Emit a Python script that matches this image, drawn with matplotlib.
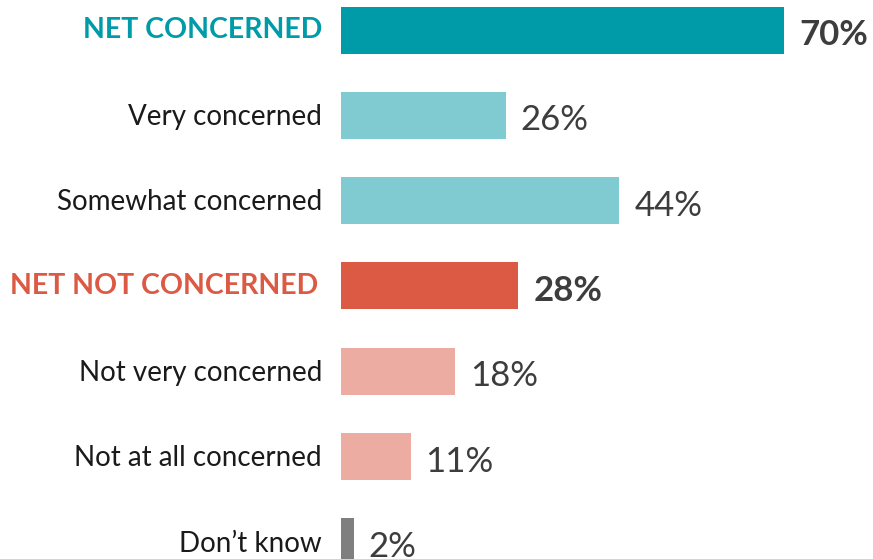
import matplotlib
matplotlib.use("Agg")
import matplotlib.pyplot as plt

categories = ["NET CONCERNED", "Very concerned", "Somewhat concerned",
              "NET NOT CONCERNED", "Not very concerned", "Not at all concerned",
              "Don\u2019t know"]
values = [70, 26, 44, 28, 18, 11, 2]
is_net = [True, False, False, True, False, False, False]
bar_colors = ["#009ba8", "#80cbd2", "#80cbd2", "#dc5944", "#ecaca2", "#ecaca2", "#7f7f7f"]
label_colors = ["#009ba8", "#1a1a1a", "#1a1a1a", "#dc5944", "#1a1a1a", "#1a1a1a", "#1a1a1a"]
label_gaps = [19, 19, 19, 23, 19, 19, 19]

W, H, DPI = 873, 559, 100
fig = plt.figure(figsize=(W / DPI, H / DPI), dpi=DPI)
x0 = 341
px_per_unit = (784 - x0) / 70.0
ax = fig.add_axes([x0 / W, 0, 1 - x0 / W, 1])
row_step = 85.33
first_center = 30
ax.set_xlim(0, (W - x0) / px_per_unit)
ax.set_ylim((H - first_center) / row_step, -first_center / row_step)
ax.axis("off")

ypos = list(range(len(categories)))
ax.barh(ypos, values, height=47 / row_step, color=bar_colors, linewidth=0)

font = "Lato"
for y, cat, v, net, lc, gap in zip(ypos, categories, values, is_net, label_colors, label_gaps):
    ax.text(-gap / px_per_unit, y + (0.0 if net else 0.02), cat, ha="right", va="center",
            fontsize=20.5 if net else 20, fontweight="bold" if net else "normal",
            color=lc, family=font, clip_on=False)
    ax.text(v + 15 / px_per_unit, y + 0.06, f"{v}%", ha="left", va="center",
            fontsize=25, fontweight="bold" if net else "normal",
            color="#3d3d3d", family=font, clip_on=False)

fig.savefig("out.png", dpi=DPI)
